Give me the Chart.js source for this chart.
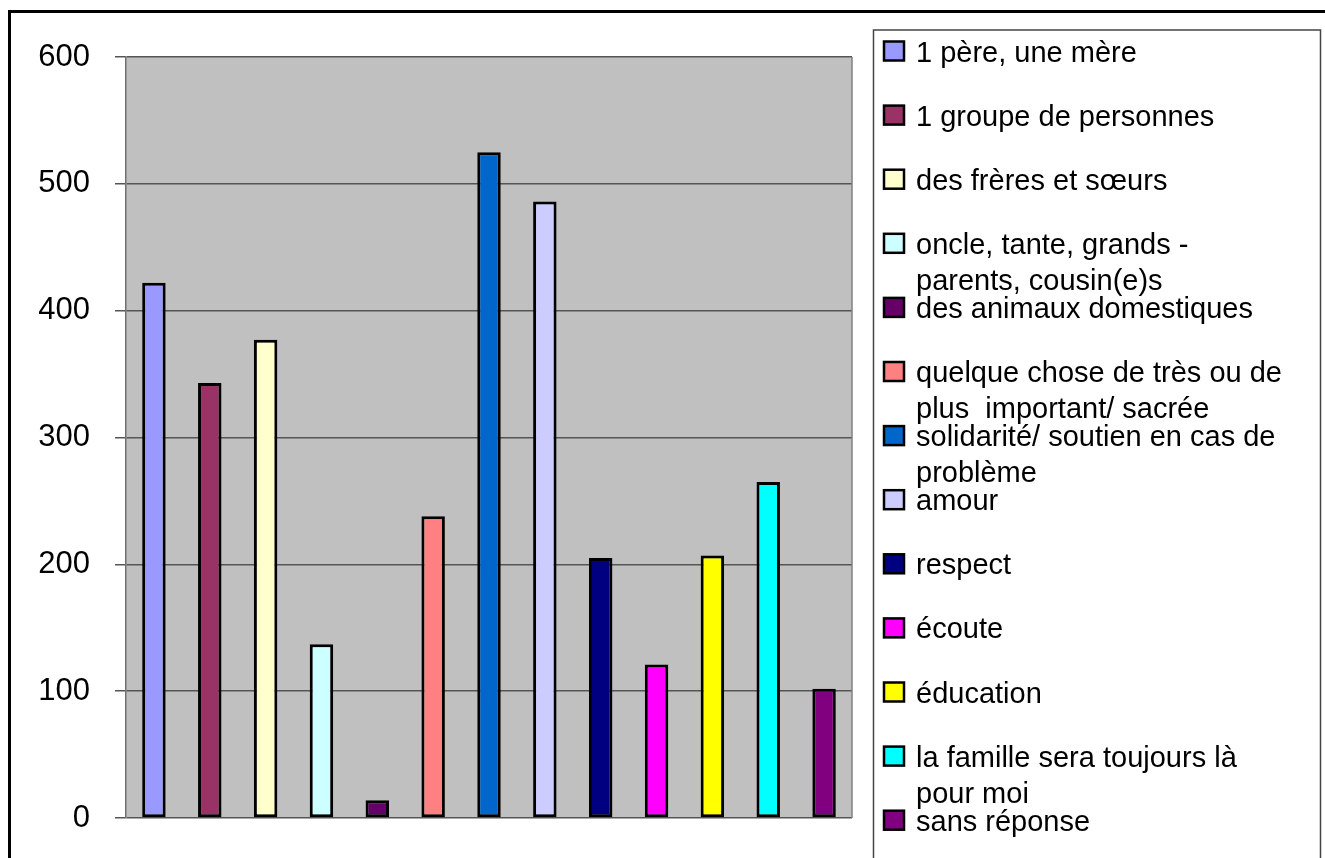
<!DOCTYPE html>
<html>
<head>
<meta charset="utf-8">
<script src="https://cdn.jsdelivr.net/npm/chart.js@4"></script>
<style>
  html, body { margin: 0; padding: 0; background: #fff; }
  #wrap { width: 1325px; height: 858px; }
</style>
</head>
<body>
<div id="wrap"><canvas id="familyChart" width="1325" height="858"></canvas></div>
<script>
// categories (multi-line ones as arrays, as in the legend)
const categories = [
    '1 père, une mère',
    '1 groupe de personnes',
    'des frères et sœurs',
    ['oncle, tante, grands -', 'parents, cousin(e)s'],
    'des animaux domestiques',
    ['quelque chose de très ou de', 'plus  important/ sacrée'],
    ['solidarité/ soutien en cas de', 'problème'],
    'amour',
    'respect',
    'écoute',
    'éducation',
    ['la famille sera toujours là', 'pour moi'],
    'sans réponse'
];
const counts = [422, 343, 377, 137, 14, 238, 525, 486, 205, 121, 207, 265, 102];
const barColors = [
    '#9999FF', '#993366', '#FFFFCC', '#CCFFFF', '#660066', '#FF8080', '#0066CC',
    '#CCCCFF', '#000080', '#FF00FF', '#FFFF00', '#00FFFF', '#800080'
];
const yTicks = [0, 100, 200, 300, 400, 500, 600];

const FONT = '"Liberation Sans", Arial, sans-serif';

// grey plot background, frames and the wrapped legend
const framePlugin = {
    id: 'frame',
    beforeDraw(chart) {
        const { ctx, chartArea: a } = chart;
        ctx.save();
        ctx.fillStyle = '#fff';
        ctx.fillRect(0, 0, chart.width, chart.height);
        ctx.fillStyle = '#C0C0C0';
        ctx.fillRect(a.left, a.top, a.right - a.left, a.bottom - a.top);
        ctx.restore();
    },
    afterDraw(chart) {
        const { ctx, chartArea: a } = chart;
        ctx.save();
        // plot right edge
        ctx.strokeStyle = '#808080';
        ctx.lineWidth = 1.5;
        ctx.beginPath();
        ctx.moveTo(a.right, a.top);
        ctx.lineTo(a.right, a.bottom);
        ctx.stroke();

        // outer frame
        ctx.strokeStyle = '#000';
        ctx.lineWidth = 3;
        ctx.strokeRect(9.5, 11.5, 1340, 880);

        // legend box
        ctx.strokeStyle = '#444';
        ctx.lineWidth = 1.5;
        ctx.strokeRect(873.5, 30, 447, 860);

        // legend items
        ctx.font = '29px ' + FONT;
        ctx.textBaseline = 'alphabetic';
        ctx.textAlign = 'left';
        categories.forEach((lab, i) => {
            const cy = 51 + i * 64.1;
            ctx.fillStyle = barColors[i];
            ctx.fillRect(884, cy - 9.5, 20, 19);
            ctx.strokeStyle = '#000';
            ctx.lineWidth = 2.5;
            ctx.strokeRect(884, cy - 9.5, 20, 19);
            ctx.fillStyle = '#000';
            const lines = Array.isArray(lab) ? lab : [lab];
            lines.forEach((t, k) => ctx.fillText(t, 916, cy + 10.5 + k * 36));
        });
        ctx.restore();
    }
};

new Chart(document.getElementById('familyChart'), {
    type: 'bar',
    data: {
        labels: categories,
        datasets: [{
            data: counts,
            backgroundColor: barColors,
            borderColor: '#000',
            borderWidth: 3,
            borderSkipped: false,
            barPercentage: 0.42,
            categoryPercentage: 1
        }]
    },
    options: {
        responsive: false,
        animation: false,
        layout: { padding: { left: 0, right: 473, top: 57, bottom: 40 } },
        plugins: { legend: { display: false }, tooltip: { enabled: false } },
        scales: {
            x: { display: false },
            y: {
                min: 0,
                max: 600,
                afterFit(scale) {
                    scale.width = 126;
                    scale.paddingTop = 0;
                    scale.paddingBottom = 0;
                },
                afterBuildTicks(scale) { scale.ticks = yTicks.map(v => ({ value: v })); },
                border: { color: '#707070', width: 1.5 },
                grid: { color: '#555', lineWidth: 1.5, tickLength: 11, tickColor: '#555' },
                ticks: {
                    color: '#000',
                    padding: 25,
                    font: { family: FONT, size: 31 }
                }
            }
        }
    },
    plugins: [framePlugin]
});
</script>
</body>
</html>
